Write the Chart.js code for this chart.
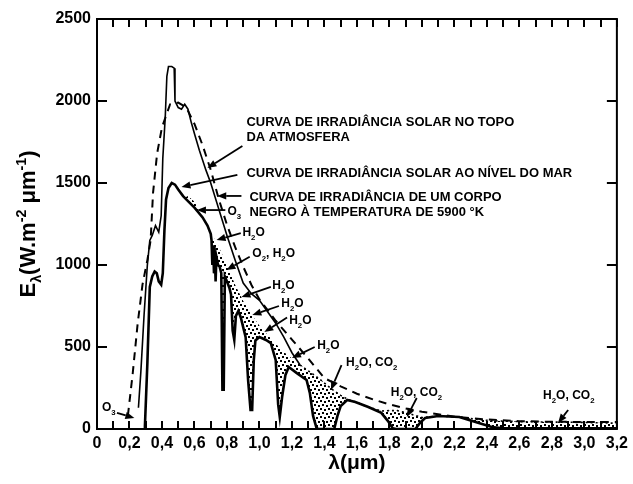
<!DOCTYPE html>
<html><head><meta charset="utf-8">
<script src="https://cdn.jsdelivr.net/npm/chart.js@4.4.1/dist/chart.umd.min.js"></script>
<style>html,body{margin:0;padding:0;background:#fff}#wrap{width:633px;height:484px;position:relative}</style>
</head><body><div id="wrap"><canvas id="c" width="633" height="484"></canvas></div>
<script>
const FONT = '"Liberation Sans", Arial, Helvetica, sans-serif';

// ---- data ----
// Solar irradiance at the top of the atmosphere (solid thin line)
const toaWl = [0.255,0.27,0.29,0.31,0.325,0.34,0.36,0.38,0.395,0.405,0.42,0.43,0.44,0.46,0.475,0.48,0.50,0.52,0.54,0.56,0.58,0.60,0.63,0.67,0.70,0.75,0.80,0.85,0.90,0.95,1.00,1.05,1.10,1.15,1.20,1.25];
const toaE  = [130,350,700,1000,1150,1180,1240,1200,1300,1650,1900,2150,2210,2210,2200,2000,1960,1950,1980,1950,1870,1800,1700,1580,1500,1340,1180,1030,890,825,785,715,645,560,465,390];

// Solar irradiance at sea level (thick solid line)
const seaWl = [0.29,0.295,0.31,0.325,0.34,0.355,0.368,0.38,0.395,0.405,0.415,0.425,0.44,0.46,0.48,0.50,0.53,0.56,0.60,0.65,0.68,0.70,0.705,0.71,0.715,0.72,0.725,0.73,0.735,0.745,0.755,0.765,0.772,0.78,0.787,0.80,0.815,0.825,0.835,0.845,0.855,0.87,0.885,0.90,0.915,0.93,0.945,0.955,0.965,0.975,1.00,1.04,1.07,1.10,1.115,1.125,1.14,1.16,1.18,1.23,1.29,1.31,1.33,1.35,1.36,1.46,1.48,1.50,1.54,1.59,1.67,1.75,1.79,1.82,1.84,1.96,1.99,2.02,2.10,2.23,2.33,2.43,2.50,2.70,2.90,3.20];
const seaE  = [0,20,400,866,930,960,950,900,880,950,1210,1400,1470,1500,1490,1460,1420,1390,1350,1290,1240,1190,1150,1000,1120,950,1080,900,1050,1000,990,950,240,240,930,900,860,820,600,543,690,720,680,620,560,300,116,116,420,540,561,543,524,420,150,73,200,330,378,341,299,220,80,10,0,0,80,140,177,165,134,98,50,5,0,0,40,67,79,73,43,12,5,5,5,5];

// Black body at 5900 K (dashed line)
const bbWl = [0.19,0.22,0.25,0.28,0.31,0.33,0.345,0.37,0.40,0.45,0.50,0.55,0.60,0.65,0.70,0.75,0.80,0.85,0.90,0.95,1.00,1.10,1.20,1.30,1.40,1.50,1.60,1.70,1.80,1.90,2.00,2.20,2.40,2.60,2.80,3.00,3.20];
const bbE  = [80,340,640,880,1030,1150,1440,1680,1840,1980,1990,1960,1860,1730,1580,1400,1245,1110,990,880,790,660,545,430,310,260,215,180,150,125,105,75,58,48,44,43,42];

// Upper edge of the absorption (stippled) area
const absWl = [0.54,0.56,0.60,0.63,0.65,0.68,0.70,0.75,0.80,0.85,0.90,0.95,1.00,1.05,1.10,1.15,1.20,1.25,1.30,1.35,1.40,1.45,1.50,1.55,1.59,1.67,1.75,1.80,1.85,1.90,1.95,2.00,2.10,2.23,2.33,2.43,2.60,2.80,3.00,3.20];
const absE  = [1410,1420,1385,1330,1290,1240,1200,1110,1000,880,780,700,630,575,520,470,430,390,355,320,280,240,205,178,165,134,110,112,112,100,85,70,79,73,60,50,45,42,40,35];

const xTickValues = [0,0.1,0.2,0.3,0.4,0.5,0.6,0.7,0.8,0.9,1.0,1.1,1.2,1.3,1.4,1.5,1.6,1.7,1.8,1.9,2.0,2.1,2.2,2.3,2.4,2.5,2.6,2.7,2.8,2.9,3.0,3.1,3.2];
const xTickLabels = ['0','0,2','0,4','0,6','0,8','1,0','1,2','1,4','1,6','1,8','2,0','2,2','2,4','2,6','2,8','3,0','3,2'];
const yTickValues = [0,500,1000,1500,2000,2500];
const yTickLabels = ['0','500','1000','1500','2000','2500'];

// annotations: text anchor (left, first-line centre), arrow tail and head, in data units
const annotations = [
  {lines:['CURVA DE IRRADIÂNCIA SOLAR NO TOPO','DA ATMOSFERA'], at:[0.92,1872], from:[0.895,1726], to:[0.68,1591], size:12, hs:1.08},
  {lines:['CURVA DE IRRADIÂNCIA SOLAR AO NÍVEL DO MAR'], at:[0.92,1561], from:[0.864,1549], to:[0.52,1476], size:12, hs:1.08},
  {lines:['CURVA DE IRRADIÂNCIA DE UM CORPO','NEGRO À TEMPERATURA DE 5900 °K'], at:[0.938,1415], from:[0.889,1421], to:[0.74,1421], size:12, hs:1.08},
  {lines:['O_3'], at:[0.803,1329], from:[0.79,1335], to:[0.615,1335], size:12, hs:1},
  {lines:['H_2O'], at:[0.895,1201], from:[0.885,1195], to:[0.736,1152], size:12, hs:1},
  {lines:['O_2, H_2O'], at:[0.956,1073], from:[0.94,1050], to:[0.797,970], size:12, hs:1},
  {lines:['H_2O'], at:[1.079,878], from:[1.07,866], to:[0.889,805], size:12, hs:1},
  {lines:['H_2O'], at:[1.134,768], from:[1.12,750], to:[0.956,695], size:12, hs:1},
  {lines:['H_2O'], at:[1.183,665], from:[1.17,680], to:[1.03,591], size:12, hs:1},
  {lines:['H_2O'], at:[1.355,512], from:[1.34,500], to:[1.20,433], size:12, hs:1},
  {lines:['H_2O, CO_2'], at:[1.533,409], from:[1.505,390], to:[1.44,238], size:12, hs:1},
  {lines:['H_2O, CO_2'], at:[1.808,226], from:[1.968,189], to:[1.907,73], size:12, hs:1},
  {lines:['H_2O, CO_2'], at:[2.746,207], from:[2.90,116], to:[2.838,37], size:12, hs:1},
  {lines:['O_3'], at:[0.031,134], from:[0.123,98], to:[0.23,67], size:12, hs:1}
];
const yTitle = 'E_λ(W.m^-2 μm^-1)';

// ---- helpers ----
function pts(xs, ys){ return xs.map((x,i)=>({x:x, y:ys[i]})); }

function parseRich(s){
  const out=[]; const re=/_(\S)|\^(-?\d)/g; let last=0, m;
  while((m=re.exec(s))){
    if(m.index>last) out.push([s.slice(last,m.index),0]);
    if(m[1]!==undefined) out.push([m[1],1]); else out.push([m[2],-1]);
    last=re.lastIndex;
  }
  if(last<s.length) out.push([s.slice(last),0]);
  return out;
}
function richWidth(ctx, s, size){
  let w=0;
  for(const [t,m] of parseRich(s)){
    ctx.font = 'bold '+(m?size*0.65:size)+'px '+FONT;
    w += ctx.measureText(t).width;
  }
  return w;
}
function drawRich(ctx, s, x, yBase, size, hs){
  ctx.save(); ctx.translate(x,yBase); ctx.scale(hs,1);
  ctx.textBaseline='alphabetic'; ctx.textAlign='left'; ctx.fillStyle='#000';
  let cx=0;
  for(const [t,m] of parseRich(s)){
    const sz = m? size*0.65 : size;
    ctx.font = 'bold '+sz+'px '+FONT;
    const dy = m===1 ? size*0.28 : (m===-1 ? -size*0.42 : 0);
    ctx.fillText(t, cx, dy);
    cx += ctx.measureText(t).width;
  }
  ctx.restore();
}
function arrow(ctx, x1,y1,x2,y2){
  const a=Math.atan2(y2-y1,x2-x1), L=9, W=3.6;
  const bx=x2-L*Math.cos(a), by=y2-L*Math.sin(a);
  ctx.save(); ctx.setLineDash([]); ctx.strokeStyle='#000'; ctx.fillStyle='#000'; ctx.lineWidth=1.8;
  ctx.beginPath(); ctx.moveTo(x1,y1); ctx.lineTo(bx,by); ctx.stroke();
  ctx.beginPath(); ctx.moveTo(x2,y2);
  ctx.lineTo(bx - W*Math.sin(a), by + W*Math.cos(a));
  ctx.lineTo(bx + W*Math.sin(a), by - W*Math.cos(a));
  ctx.closePath(); ctx.fill(); ctx.restore();
}

// stipple pattern for absorption area
const pc=document.createElement('canvas'); pc.width=8; pc.height=8;
const pg=pc.getContext('2d'); pg.fillStyle='#000';
[[0,0],[4,1],[2,4],[6,5]].forEach(p=>pg.fillRect(p[0],p[1],2,2));
const stipple = pg.createPattern(pc,'repeat');

// frame, inward ticks, annotations, y title
const framePlugin = {
  id:'frame',
  afterDraw(chart){
    const ctx=chart.ctx, a=chart.chartArea, xs=chart.scales.x, ys=chart.scales.y;
    ctx.save();
    ctx.setLineDash([]);
    ctx.strokeStyle='#000'; ctx.fillStyle='#000'; ctx.lineWidth=2;
    ctx.strokeRect(a.left, a.top, a.right-a.left, a.bottom-a.top);
    for(const v of xTickValues){
      const px=Math.round(xs.getPixelForValue(v));
      ctx.fillRect(px-1, a.bottom-8, 2, 8);
      ctx.fillRect(px-1, a.top, 2, 8);
    }
    for(const v of yTickValues){
      const py=Math.round(ys.getPixelForValue(v));
      ctx.fillRect(a.left, py-1, 10, 2);
      ctx.fillRect(a.right-10, py-1, 10, 2);
    }
    // annotations
    annotations.forEach(an=>{
      const tx=xs.getPixelForValue(an.at[0]), ty=ys.getPixelForValue(an.at[1]);
      const cap=an.size*0.716;
      an.lines.forEach((ln,i)=>drawRich(ctx, ln, tx, ty+cap/2+i*15, an.size, an.hs));
      arrow(ctx, xs.getPixelForValue(an.from[0]), ys.getPixelForValue(an.from[1]),
                 xs.getPixelForValue(an.to[0]), ys.getPixelForValue(an.to[1]));
    });
    // y axis title
    const size=22, w=richWidth(ctx, yTitle, size);
    ctx.save();
    ctx.translate(27, (a.top+a.bottom)/2);
    ctx.rotate(-Math.PI/2);
    drawRich(ctx, yTitle, -w/2, size*0.716/2, size, 1);
    ctx.restore();
    ctx.restore();
  }
};

new Chart(document.getElementById('c'), {
  type:'line',
  data:{ datasets:[
    {label:'Topo da atmosfera', data:pts(toaWl,toaE), borderColor:'#000', borderWidth:1.6, pointRadius:0, fill:false, tension:0},
    {label:'Nível do mar', data:pts(seaWl,seaE), borderColor:'#000', borderWidth:2.6, pointRadius:0, fill:false, tension:0},
    {label:'Corpo negro 5900 K', data:pts(bbWl,bbE), borderColor:'#000', borderWidth:2, borderDash:[8,6], pointRadius:0, fill:false, tension:0},
    {label:'Absorção', data:pts(absWl,absE), borderColor:'#000', borderWidth:1.6, borderDash:[2,3], pointRadius:0, tension:0,
     fill:{target:1}, backgroundColor:stipple,
     segment:{borderColor: c => c.p0.parsed.x >= 1.24 ? '#000' : 'rgba(0,0,0,0)'}}
  ]},
  options:{
    responsive:false, animation:false, events:[],
    layout:{padding:{top:19, right:14, left:0, bottom:0}},
    plugins:{legend:{display:false}, tooltip:{enabled:false}},
    scales:{
      x:{type:'linear', min:0, max:3.2,
         afterFit:s=>{s.height=55;},
         grid:{display:false, drawTicks:false}, border:{display:false},
         ticks:{stepSize:0.1, autoSkip:false, maxRotation:0, minRotation:0, padding:5, color:'#000',
                font:{family:FONT, size:16, weight:'bold'},
                callback:v=>{const k=Math.round(v*10); return k%2===0 ? xTickLabels[k/2] : '';}},
         title:{display:true, text:'λ(μm)', color:'#000', font:{family:FONT, size:21, weight:'bold'}, padding:{top:0, bottom:8}}},
      y:{min:0, max:2500,
         afterFit:s=>{s.width=97;},
         grid:{display:false, drawTicks:false}, border:{display:false},
         ticks:{stepSize:500, padding:6, color:'#000', font:{family:FONT, size:16, weight:'bold'},
                callback:v=>{const k=Math.round(v/500); return yTickLabels[k];}}}
    }
  },
  plugins:[framePlugin]
});
</script></body></html>
